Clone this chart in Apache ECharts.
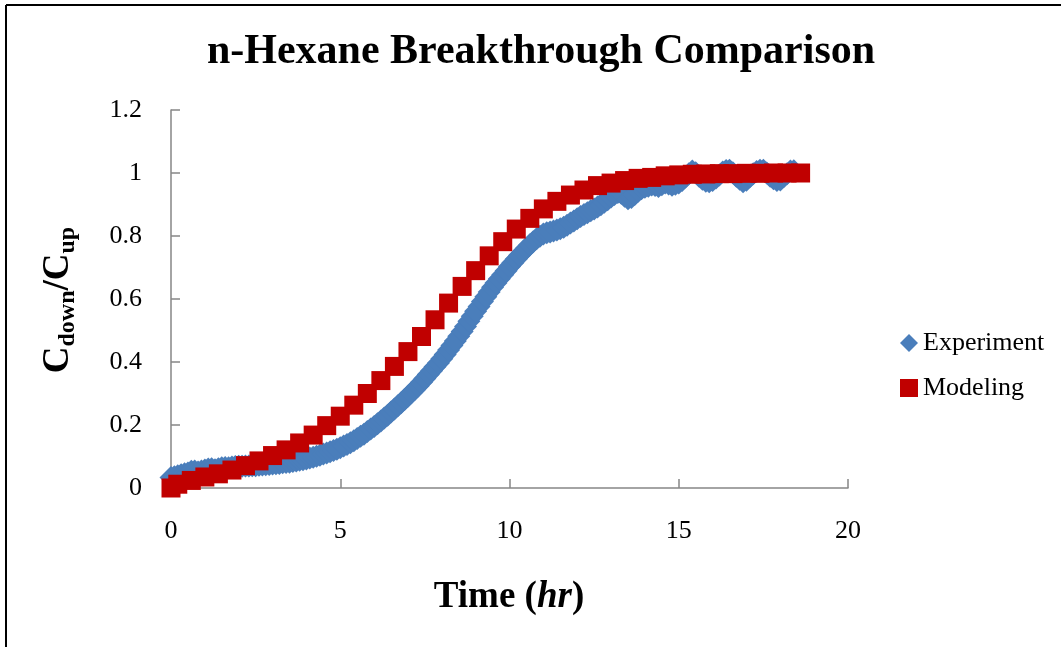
<!DOCTYPE html>
<html>
<head>
<meta charset="utf-8">
<script src="https://cdn.jsdelivr.net/npm/echarts@6/dist/echarts.min.js"></script>
<style>
html,body{margin:0;padding:0;background:#fff;}
#chart{width:1061px;height:647px;}
</style>
</head>
<body>
<div id="chart"></div>
<script>
const titleText = 'n-Hexane Breakthrough Comparison';
const seriesNames = ['Experiment', 'Modeling'];

const expTime = [
0.0,0.1,0.2,0.3,0.4,0.5,0.6,0.7,0.8,0.9,
1.0,1.1,1.2,1.3,1.4,1.5,1.6,1.7,1.8,1.9,
2.0,2.1,2.2,2.3,2.4,2.5,2.6,2.7,2.8,2.9,
3.0,3.1,3.2,3.3,3.4,3.5,3.6,3.7,3.8,3.9,
4.0,4.1,4.2,4.3,4.4,4.5,4.6,4.7,4.8,4.9,
5.0,5.1,5.2,5.3,5.4,5.5,5.6,5.7,5.8,5.9,
6.0,6.1,6.2,6.3,6.4,6.5,6.6,6.7,6.8,6.9,
7.0,7.1,7.2,7.3,7.4,7.5,7.6,7.7,7.8,7.9,
8.0,8.1,8.2,8.3,8.4,8.5,8.6,8.7,8.8,8.9,
9.0,9.1,9.2,9.3,9.4,9.5,9.6,9.7,9.8,9.9,
10.0,10.1,10.2,10.3,10.4,10.5,10.6,10.7,10.8,10.9,
11.0,11.1,11.2,11.3,11.4,11.5,11.6,11.7,11.8,11.9,
12.0,12.1,12.2,12.3,12.4,12.5,12.6,12.7,12.8,12.9,
13.0,13.1,13.2,13.3,13.4,13.5,13.6,13.7,13.8,13.9,
14.0,14.1,14.2,14.3,14.4,14.5,14.6,14.7,14.8,14.9,
15.0,15.1,15.2,15.3,15.4,15.5,15.6,15.7,15.8,15.9,
16.0,16.1,16.2,16.3,16.4,16.5,16.6,16.7,16.8,16.9,
17.0,17.1,17.2,17.3,17.4,17.5,17.6,17.7,17.8,17.9,
18.0,18.1,18.2,18.3,18.4
];
const expValue = [
0.033,0.036,0.039,0.042,0.045,0.048,0.053,0.054,0.051,0.054,
0.057,0.060,0.061,0.058,0.061,0.064,0.065,0.064,0.067,0.068,
0.069,0.069,0.070,0.070,0.071,0.071,0.072,0.073,0.074,0.075,
0.076,0.077,0.078,0.080,0.081,0.082,0.084,0.086,0.088,0.090,
0.092,0.095,0.098,0.101,0.104,0.108,0.111,0.115,0.119,0.123,
0.128,0.133,0.138,0.144,0.150,0.157,0.164,0.171,0.179,0.187,
0.195,0.204,0.213,0.222,0.231,0.241,0.251,0.261,0.271,0.281,
0.291,0.302,0.313,0.324,0.336,0.348,0.360,0.372,0.385,0.397,
0.410,0.424,0.438,0.452,0.467,0.482,0.497,0.513,0.529,0.545,
0.561,0.576,0.592,0.607,0.622,0.637,0.651,0.664,0.677,0.690,
0.703,0.715,0.727,0.739,0.750,0.761,0.772,0.782,0.791,0.799,
0.806,0.810,0.813,0.816,0.819,0.823,0.828,0.834,0.841,0.848,
0.855,0.862,0.868,0.874,0.880,0.886,0.892,0.899,0.907,0.915,
0.924,0.932,0.938,0.936,0.926,0.918,0.922,0.932,0.942,0.950,
0.955,0.958,0.962,0.960,0.957,0.963,0.968,0.965,0.961,0.964,
0.968,0.976,0.987,0.998,1.006,1.001,0.990,0.980,0.974,0.972,
0.976,0.984,0.994,1.003,1.008,1.009,1.001,0.990,0.980,0.972,
0.977,0.988,0.998,1.005,1.009,1.009,1.000,0.990,0.982,0.976,
0.978,0.988,0.998,1.006,1.007
];

const modTime = [
0.0,0.2,0.6,1.0,1.4,1.8,2.2,2.6,3.0,3.4,
3.8,4.2,4.6,5.0,5.4,5.8,6.2,6.6,7.0,7.4,
7.8,8.2,8.6,9.0,9.4,9.8,10.2,10.6,11.0,11.4,
11.8,12.2,12.6,13.0,13.4,13.8,14.2,14.6,15.0,15.4,
15.8,16.2,16.6,17.0,17.4,17.8,18.2,18.6
];
const modValue = [
0.000,0.012,0.024,0.035,0.045,0.057,0.071,0.086,0.103,0.121,
0.143,0.168,0.198,0.228,0.263,0.300,0.341,0.386,0.433,0.481,
0.534,0.587,0.640,0.690,0.737,0.782,0.822,0.856,0.886,0.910,
0.930,0.946,0.960,0.968,0.976,0.983,0.986,0.991,0.994,0.996,
0.997,0.998,0.998,0.999,0.999,1.000,1.000,1.000
];

const FONT = "'Times New Roman', 'Liberation Serif', serif";
const AXIS_COLOR = '#868686';
const BLUE = '#4A7EBB';
const RED = '#C00000';

const expData = expTime.map((t, i) => [t, expValue[i]]);
const modData = modTime.map((t, i) => [t, modValue[i]]);

const chart = echarts.init(document.getElementById('chart'), null, {renderer: 'canvas'});
chart.setOption({
  animation: false,
  backgroundColor: '#ffffff',
  legend: {
    orient: 'vertical',
    left: 895,
    top: 325,
    itemWidth: 18,
    itemHeight: 18,
    itemGap: 19,
    textStyle: {fontFamily: FONT, fontSize: 26, color: '#000'},
    data: [
      {name: seriesNames[0], icon: 'diamond', itemStyle: {color: BLUE, opacity: 1}},
      {name: seriesNames[1], icon: 'rect', itemStyle: {color: RED, opacity: 1}}
    ]
  },
  grid: {left: 171, right: 213, top: 110, bottom: 159, containLabel: false},
  xAxis: {
    type: 'value',
    min: 0, max: 20, interval: 5,
    axisLine: {show: true, lineStyle: {color: AXIS_COLOR, width: 1.5}},
    axisTick: {show: true, inside: true, length: 9, lineStyle: {color: AXIS_COLOR, width: 1.5}},
    axisLabel: {margin: 30, fontFamily: FONT, fontSize: 26, color: '#000'},
    splitLine: {show: false}
  },
  yAxis: {
    type: 'value',
    min: 0, max: 1.2, interval: 0.2,
    axisLine: {show: true, lineStyle: {color: AXIS_COLOR, width: 1.5}},
    axisTick: {show: true, inside: true, length: 9, lineStyle: {color: AXIS_COLOR, width: 1.5}},
    axisLabel: {margin: 29, fontFamily: FONT, fontSize: 26, color: '#000'},
    splitLine: {show: false}
  },
  graphic: [
    {type: 'line', silent: true, z: 100, shape: {x1: 6, y1: 5, x2: 6, y2: 647}, style: {stroke: '#000', lineWidth: 2}},
    {type: 'line', silent: true, z: 100, shape: {x1: 6, y1: 5, x2: 1061, y2: 5}, style: {stroke: '#000', lineWidth: 2}},
    {
      type: 'text', silent: true, x: 541, y: 52,
      style: {
        text: titleText,
        align: 'center', verticalAlign: 'middle',
        fill: '#000',
        fontFamily: FONT, fontWeight: 'bold', fontSize: 42
      }
    },
    {
      type: 'text', silent: true, x: 58, y: 300, rotation: Math.PI / 2,
      style: {
        text: '{m|C}{s|down}{m|/C}{s|up}',
        align: 'center', verticalAlign: 'middle',
        fill: '#000',
        rich: {
          m: {fontFamily: FONT, fontWeight: 'bold', fontSize: 37, lineHeight: 37, verticalAlign: 'top'},
          s: {fontFamily: FONT, fontWeight: 'bold', fontSize: 24, lineHeight: 24, verticalAlign: 'top', padding: [16, 0, 0, 0]}
        }
      }
    },
    {
      type: 'text', silent: true, x: 509, y: 597,
      style: {
        text: '{b|Time (}{i|hr}{b|)}',
        align: 'center', verticalAlign: 'middle',
        fill: '#000',
        rich: {
          b: {fontFamily: FONT, fontWeight: 'bold', fontSize: 37},
          i: {fontFamily: FONT, fontWeight: 'bold', fontStyle: 'italic', fontSize: 37}
        }
      }
    }
  ],
  series: [
    {
      name: seriesNames[0],
      type: 'scatter',
      symbol: 'diamond',
      symbolSize: 23,
      clip: false,
      itemStyle: {color: BLUE, opacity: 1},
      data: expData,
      z: 2
    },
    {
      name: seriesNames[1],
      type: 'scatter',
      symbol: 'rect',
      symbolSize: 19,
      clip: false,
      itemStyle: {color: RED, opacity: 1},
      data: modData,
      z: 3
    }
  ]
});
</script>
</body>
</html>
